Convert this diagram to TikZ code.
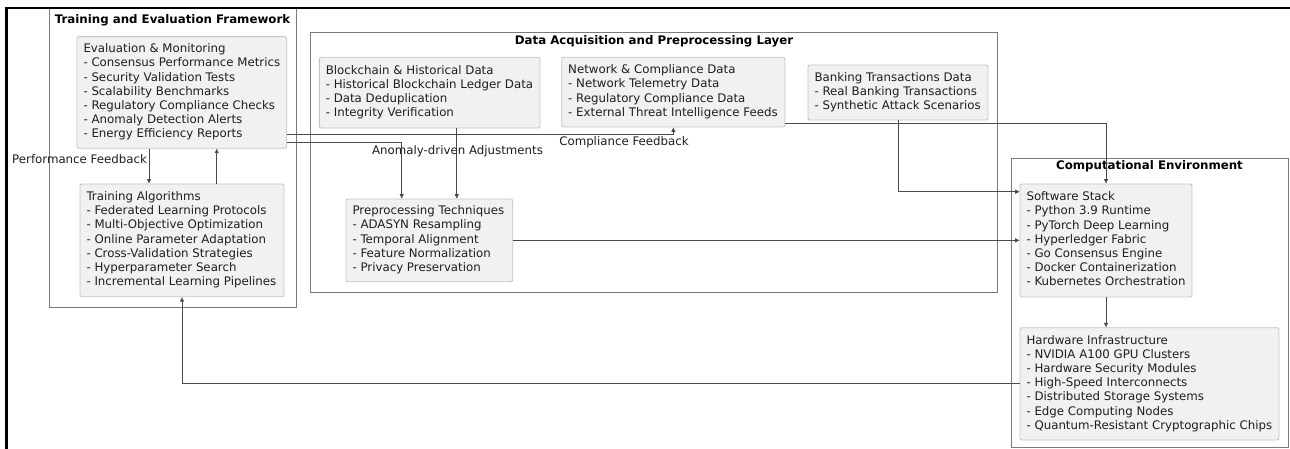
\documentclass[tikz,border=0pt]{standalone}
\usepackage{fontspec}
\setmainfont{DejaVu Sans}
\usetikzlibrary{arrows.meta}

\definecolor{cardfill}{HTML}{F1F1F1}
\definecolor{cardline}{HTML}{C4C4C4}
\definecolor{cardtext}{HTML}{1E1E1E}
\definecolor{frameline}{HTML}{7A7A7A}
\definecolor{connline}{HTML}{4A4A4A}

\newcommand\cardfont{\fontsize{11.8}{14.2}\selectfont}
% fixed-width, left-aligned block of unwrapped lines
\newcommand\cardlines[2]{\makebox[#1][l]{\begin{tabular}{@{}l@{}}#2\end{tabular}}}

\tikzset{
  card/.style={draw=cardline, line width=0.9pt, fill=cardfill, rounded corners=2pt,
    inner xsep=6.5pt, inner ysep=0pt, font=\cardfont, text=cardtext},
  framebox/.style={draw=frameline, line width=1pt},
  frametitle/.style={font=\cardfont\bfseries, text=black, inner sep=0pt},
  conn/.style={draw=connline, line width=0.9pt, -{Triangle[length=4.5pt,width=4pt]}},
  edgelabel/.style={font=\cardfont, text=cardtext, inner sep=0pt},
}

\begin{document}
\begin{tikzpicture}[x=1pt,y=-1pt]
\useasboundingbox (0,0) rectangle (1290,449);

% group frames
\draw[framebox] (49,8) rectangle (296,307);
\node[frametitle] (tefTitle) at (172.5,20) {Training and Evaluation Framework};
\draw[framebox] (310.5,32.3) rectangle (997,292.3);
\node[frametitle] (dapTitle) at (654,41) {Data Acquisition and Preprocessing Layer};
\draw[framebox] (1011.5,159) rectangle (1288,447);
\node[frametitle] (ceTitle) at (1149.5,166.7) {Computational Environment};

% cards
\node[card, minimum height=111.6pt] (eval) at (181.85,92.5)
  {\cardlines{196.7pt}{Evaluation \& Monitoring\\- Consensus Performance Metrics\\- Security Validation Tests\\- Scalability Benchmarks\\- Regulatory Compliance Checks\\- Anomaly Detection Alerts\\- Energy Efficiency Reports}};
\node[card, minimum height=112.7pt] (train) at (182,240.35)
  {\cardlines{191pt}{Training Algorithms\\- Federated Learning Protocols\\- Multi-Objective Optimization\\- Online Parameter Adaptation\\- Cross-Validation Strategies\\- Hyperparameter Search\\- Incremental Learning Pipelines}};
\node[card, minimum height=70.7pt] (chain) at (429.65,92.65)
  {\cardlines{207.7pt}{Blockchain \& Historical Data\\- Historical Blockchain Ledger Data\\- Data Deduplication\\- Integrity Verification}};
\node[card, minimum height=69.7pt] (net) at (673.35,92.15)
  {\cardlines{210.3pt}{Network \& Compliance Data\\- Network Telemetry Data\\- Regulatory Compliance Data\\- External Threat Intelligence Feeds}};
\node[card, minimum height=55pt] (bank) at (898,92.5)
  {\cardlines{167pt}{Banking Transactions Data\\- Real Banking Transactions\\- Synthetic Attack Scenarios}};
\node[card, minimum height=82.7pt] (prep) at (429.35,240.35)
  {\cardlines{153.7pt}{Preprocessing Techniques\\- ADASYN Resampling\\- Temporal Alignment\\- Feature Normalization\\- Privacy Preservation}};
\node[card, minimum height=113pt] (sw) at (1106,240.5)
  {\cardlines{159pt}{Software Stack\\- Python 3.9 Runtime\\- PyTorch Deep Learning\\- Hyperledger Fabric\\- Go Consensus Engine\\- Docker Containerization\\- Kubernetes Orchestration}};
\node[card, minimum height=112.3pt] (hw) at (1149.5,383.85)
  {\cardlines{246pt}{Hardware Infrastructure\\- NVIDIA A100 GPU Clusters\\- Hardware Security Modules\\- High-Speed Interconnects\\- Distributed Storage Systems\\- Edge Computing Nodes\\- Quantum-Resistant Cryptographic Chips}};

% routing columns and rows
\coordinate (pfCol) at (149,0);
\coordinate (upCol) at (216.7,0);
\coordinate (cfRow) at (0,134.5);
\coordinate (adRow) at (0,142);
\coordinate (adCol) at (401.7,0);
\coordinate (bcCol) at (456.8,0);
\coordinate (netRow) at (0,123.5);
\coordinate (bankRow) at (0,191.7);

% connectors
\draw[conn] (eval.south -| pfCol) -- (train.north -| pfCol);
\draw[conn] (train.north -| upCol) -- (eval.south -| upCol);
\draw[conn] (eval.east |- cfRow) -| (net.south);
\draw[conn] (eval.east |- adRow) -| (prep.north -| adCol);
\draw[conn] (chain.south -| bcCol) -- (prep.north -| bcCol);
\draw[conn] (net.east |- netRow) -| (sw.north);
\draw[conn] (bank.south) |- (sw.west |- bankRow);
\draw[conn] (prep.east) -- (prep.east -| sw.west);
\draw[conn] (sw.south) -- (sw.south |- hw.north);
\draw[conn] (hw.west) -| (train.south);

% connector labels
\node[edgelabel, anchor=west] (pfLabel) at (12,159.3) {Performance Feedback};
\node[edgelabel] (adLabel) at (457.5,151) {Anomaly-driven Adjustments};
\node[edgelabel] (cfLabel) at (624,142.7) {Compliance Feedback};

% outer border
\draw[line width=2.5pt, black] (6.5,449) -- (6.5,8) -- (1290,8);
\end{tikzpicture}
\end{document}
